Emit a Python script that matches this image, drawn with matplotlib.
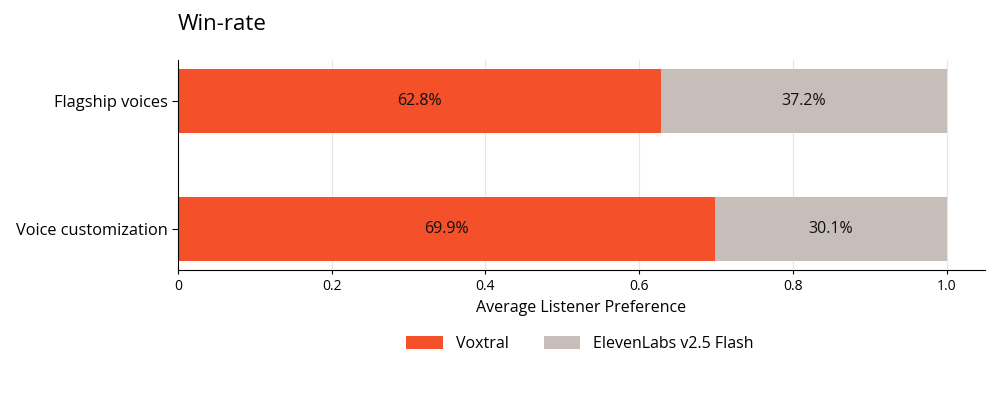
import matplotlib
matplotlib.use("Agg")
import matplotlib.pyplot as plt

plt.rcParams['font.family'] = ['Open Sans', 'DejaVu Sans']

# Data
categories = ['Voice customization', 'Flagship voices']
voxtral = [0.699, 0.628]
elevenlabs = [0.301, 0.372]
series_names = ['Voxtral', 'ElevenLabs v2.5 Flash']
colors = ['#F4502A', '#C8BEB9']
xticks = [0, 0.2, 0.4, 0.6, 0.8, 1.0]
xtick_labels = ['0', '0.2', '0.4', '0.6', '0.8', '1.0']

fig = plt.figure(figsize=(10, 4), dpi=100)
ax = fig.add_axes([0.178, 0.325, 0.807, 0.525])

y = list(range(len(categories)))
b1 = ax.barh(y, voxtral, height=0.5, color=colors[0], label=series_names[0], zorder=2)
b2 = ax.barh(y, elevenlabs, left=voxtral, height=0.5, color=colors[1], label=series_names[1], zorder=2)

# percentage labels in the middle of each segment
for i in y:
    ax.text(voxtral[i] / 2, i, f'{voxtral[i]*100:.1f}%', ha='center', va='center', fontsize=11.5, color='#111111')
    ax.text(voxtral[i] + elevenlabs[i] / 2, i, f'{elevenlabs[i]*100:.1f}%', ha='center', va='center',
            fontsize=11.5, color='#111111')

ax.set_yticks(y)
ax.set_yticklabels(categories, fontsize=11.8)
ax.set_xticks(xticks)
ax.set_xticklabels(xtick_labels, fontsize=10)
ax.set_xlim(0, 1.05)
ax.set_ylim(-0.32, 1.32)
ax.set_xlabel('Average Listener Preference', fontsize=11.5)

ax.grid(axis='x', color='#e6e6e6', linewidth=0.8, zorder=0)
ax.spines['top'].set_visible(False)
ax.spines['right'].set_visible(False)
ax.tick_params(axis='x', length=3)
ax.tick_params(axis='y', length=4)

fig.text(0.178, 0.94, 'Win-rate', fontsize=16, ha='left', va='center')

fig.legend(handles=[b1, b2], loc='center', bbox_to_anchor=(0.58, 0.14), ncol=2, frameon=False,
           fontsize=11.5, handlelength=2.3, handleheight=0.8, columnspacing=2.2)

fig.savefig('out.png', dpi=100)
